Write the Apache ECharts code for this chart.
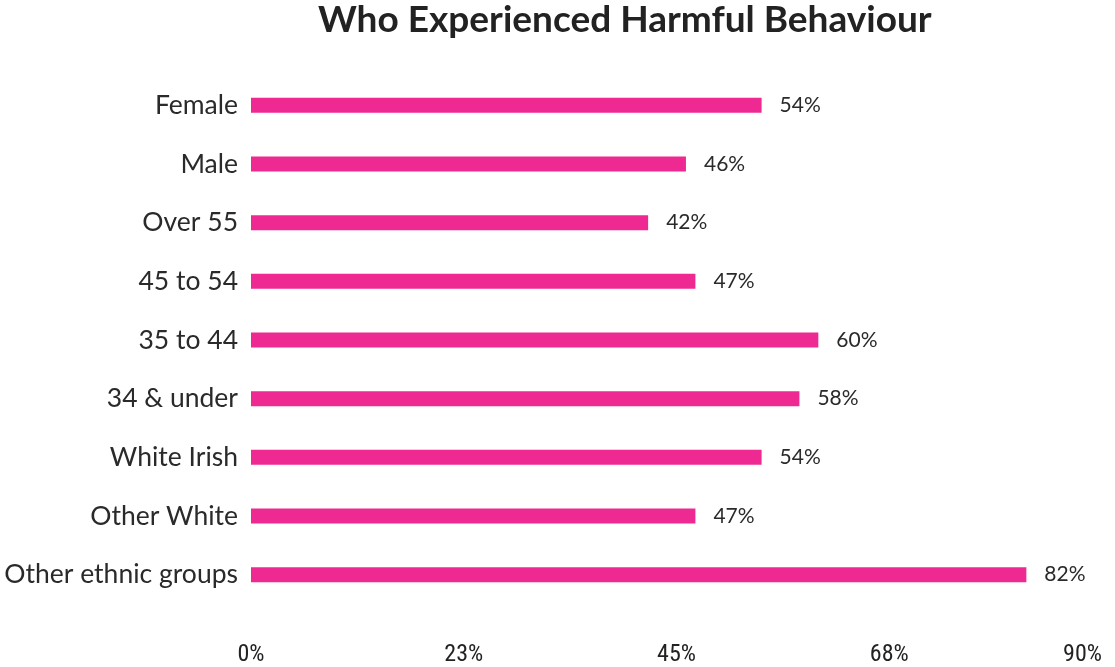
<!DOCTYPE html>
<html>
<head>
<meta charset="utf-8">
<script src="https://cdn.jsdelivr.net/npm/echarts@6/dist/echarts.min.js"></script>
<style>
  html, body { margin: 0; padding: 0; background: #fff; }
  #chart { width: 1115px; height: 667px; }
</style>
</head>
<body>
<div id="chart"></div>
<script>
  // top to bottom as shown
  const categories = ['Female', 'Male', 'Over 55', '45 to 54', '35 to 44', '34 & under', 'White Irish', 'Other White', 'Other ethnic groups']
  const values = [54, 46, 42, 47, 60, 58, 54, 47, 82]

  const chart = echarts.init(document.getElementById('chart'), null, { renderer: 'canvas' })

  const option = {
    backgroundColor: '#fff',
    animation: false,
    title: {
      text: 'Who Experienced Harmful Behaviour',
      left: 313,
      top: -3,
      textStyle: { fontFamily: 'Lato', fontWeight: 'bold', fontSize: 37, color: '#222' },
    },
    grid: { left: 251, right: 13, top: 76, bottom: 59, containLabel: false },
    xAxis: {
      type: 'value',
      min: 0,
      max: 90,
      interval: 22.5,
      axisLine: { show: false },
      axisTick: { show: false },
      splitLine: { show: false },
      axisLabel: {
        margin: 39,
        color: '#222',
        fontSize: 24,
        fontFamily: "'Liberation Sans Narrow', 'Roboto Condensed', Lato",
        formatter: v => Math.round(v) + '%',
        alignMaxLabel: 'right',
      },
    },
    yAxis: {
      type: 'category',
      inverse: true,
      data: categories,
      axisLine: { show: false },
      axisTick: { show: false },
      axisLabel: { margin: 13, color: '#2a2a2a', fontSize: 26.5, fontFamily: 'Lato' },
    },
    series: [{
      type: 'bar',
      data: values,
      barWidth: 15,
      itemStyle: { color: '#ee2a92' },
      label: {
        show: true,
        position: 'right',
        distance: 18,
        color: '#2a2a2a',
        fontSize: 21,
        fontFamily: 'Lato',
        formatter: p => p.value + '%',
      },
    }],
  }

  chart.setOption(option)
</script>
</body>
</html>
